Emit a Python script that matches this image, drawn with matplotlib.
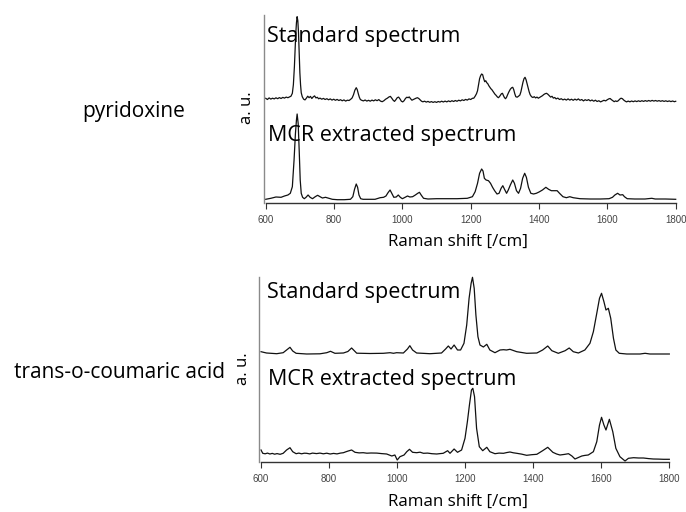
import matplotlib
matplotlib.use("Agg")
import matplotlib.pyplot as plt
import numpy as np

# ---------------- data (Raman shift in cm^-1, intensity in a.u.) ----------------
pyr_std_x = [600, 605, 610, 615, 620, 625, 630, 635, 640, 645, 650, 655, 660, 665, 670, 674, 678, 681,
             684, 686, 688, 690, 692, 694, 696, 698, 700, 702, 704, 707, 711, 715, 719, 723, 727, 731,
             735, 739, 743, 747, 751, 755, 759, 764, 769, 774, 779, 784, 789, 794, 799, 804, 809, 814,
             819, 824, 829, 834, 839, 844, 849, 853, 857, 861, 865, 868, 871, 874, 877, 881, 886, 891,
             896, 901, 906, 911, 916, 921, 926, 931, 936, 941, 946, 951, 956, 961, 965, 969, 973, 977,
             981, 985, 989, 993, 997, 1001, 1005, 1009, 1013, 1017, 1020, 1024, 1028, 1032, 1036, 1040,
             1044, 1048, 1052, 1056, 1060, 1065, 1070, 1075, 1080, 1085, 1090, 1095, 1100, 1105, 1110,
             1115, 1120, 1125, 1130, 1135, 1140, 1145, 1150, 1155, 1160, 1165, 1170, 1175, 1180, 1185,
             1190, 1195, 1200, 1205, 1209, 1213, 1217, 1220, 1223, 1226, 1229, 1232, 1235, 1238, 1241,
             1244, 1247, 1250, 1253, 1256, 1259, 1262, 1265, 1268, 1271, 1274, 1278, 1281, 1284, 1287,
             1290, 1293, 1296, 1299, 1302, 1305, 1308, 1312, 1316, 1320, 1323, 1326, 1329, 1332, 1336,
             1340, 1344, 1347, 1350, 1353, 1356, 1359, 1362, 1365, 1368, 1371, 1374, 1378, 1382, 1386,
             1390, 1394, 1398, 1402, 1406, 1410, 1414, 1418, 1422, 1426, 1430, 1434, 1438, 1442, 1446,
             1450, 1455, 1460, 1465, 1470, 1475, 1480, 1485, 1490, 1495, 1500, 1505, 1510, 1515, 1520,
             1525, 1530, 1535, 1540, 1545, 1550, 1555, 1560, 1565, 1570, 1575, 1580, 1585, 1590, 1595,
             1600, 1604, 1608, 1612, 1616, 1620, 1624, 1628, 1632, 1636, 1640, 1644, 1648, 1652, 1656,
             1661, 1666, 1671, 1676, 1681, 1686, 1691, 1696, 1701, 1706, 1711, 1716, 1721, 1726, 1731,
             1736, 1741, 1746, 1751, 1756, 1761, 1766, 1771, 1776, 1781, 1786, 1791, 1796, 1800]
pyr_std_y = [4.4, 3.2, 4.8, 3.6, 4.5, 3.8, 4.9, 4.0, 5.1, 4.2, 5.3, 4.6, 5.6, 5.0, 5.8, 6.5, 9.4, 18,
             36, 52, 69, 80, 86, 82, 70, 50, 30, 18, 10, 6, 3.5, 2.8, 4.5, 6.5, 5.0, 6.3,
             4.2, 5.8, 6.8, 4.8, 5.4, 3.9, 4.6, 3.5, 4.3, 3.2, 4.0, 2.9, 3.8, 2.6, 3.5, 2.4, 3.3, 2.2,
             3.0, 1.9, 2.8, 1.6, 2.5, 2.2, 3.5, 4.8, 8, 12.5, 15, 13, 9, 5.5, 3.2, 2.4, 1.8, 2.7,
             1.6, 2.4, 1.5, 2.6, 1.8, 2.9, 2.0, 3.1, 1.6, 1.0, 2.0, 3.5, 4.5, 5.8, 6.3, 4.5, 2.5, 1.3,
             3.0, 5.0, 5.6, 3.8, 1.5, 0.8, 2.0, 4.2, 5.5, 5.0, 5.8, 4.0, 2.5, 3.2, 3.9, 4.5,
             5.0, 4.2, 2.8, 1.5, 0.9, 1.5, 0.6, 1.3, 0.4, 1.1, 0.3, 1.0, 0.3, 1.2, 0.6,
             1.5, 0.7, 1.6, 0.8, 1.8, 1.0, 2.0, 1.2, 2.2, 1.4, 2.5, 1.8, 2.9, 2.2, 3.3,
             2.6, 3.8, 3.2, 4.4, 4.5, 6.5, 9, 12, 18, 24, 27, 28.7, 28, 24, 21,
             22, 20, 19, 17, 15.5, 14, 13, 11.5, 10, 8.5, 7.5, 5.8, 5, 6, 7.5,
             9, 9.4, 7, 5, 4, 5.5, 8, 11, 13.5, 15, 15.4, 13, 9, 6, 5.5,
             6.5, 7.7, 11, 16, 20.5, 24, 25.4, 23, 19, 15, 11, 8, 6, 5.2, 6,
             4.8, 5.6, 4.5, 5.3, 6.2, 7.0, 8.2, 9.0, 9.4, 8.4, 7.0, 5.6, 6.4, 4.6, 5.2,
             3.8, 4.6, 3.2, 4.0, 2.8, 3.6, 2.6, 3.8, 2.6, 3.5, 2.4, 3.6, 2.6, 3.8, 2.4,
             3.2, 1.8, 3.0, 2.2, 3.1, 1.8, 2.7, 1.5, 2.5, 1.2, 2.0, 0.8, 1.6, 2.4, 1.8,
             3.0, 3.8, 4.2, 3.0, 2.0, 1.0, 1.8, 1.2, 2.0, 3.5, 4.5, 4.0, 2.6, 1.6, 0.8,
             1.6, 0.9, 1.7, 1.0, 1.8, 1.1, 1.9, 1.2, 2.0, 1.3, 2.1, 1.4, 2.2, 1.5, 2.3,
             1.6, 2.2, 1.5, 2.1, 1.4, 2.0, 1.3, 1.9, 1.2, 1.8, 1.1, 1.7, 1.0, 1.4]

pyr_mcr_x = [600, 615, 630, 645, 655, 665, 672, 678, 683, 687, 690, 692, 695, 698, 701, 704, 708, 713,
             718, 724, 730, 737, 745, 752, 759, 766, 775, 785, 795, 810, 830, 848, 855, 860, 865, 869,
             873, 878, 885, 900, 920, 935, 945, 952, 958, 964, 969, 975, 982, 988, 994, 1000, 1008,
             1015, 1022, 1030, 1038, 1045, 1050, 1055, 1062, 1075, 1100, 1130, 1160, 1190, 1205,
             1213, 1220, 1226, 1232, 1236, 1240, 1245, 1252, 1258, 1264, 1270, 1277, 1283, 1289,
             1294, 1299, 1305, 1310, 1316, 1323, 1328, 1334, 1340, 1346, 1352, 1358, 1363, 1369,
             1376, 1384, 1392, 1400, 1410, 1420, 1428, 1436, 1445, 1453, 1460, 1470, 1480, 1490,
             1500, 1520, 1550, 1580, 1605, 1615, 1622, 1630, 1637, 1645, 1650, 1658, 1680, 1710,
             1730, 1740, 1770, 1800]
pyr_mcr_y = [3.4, 4.4, 5.7, 5.4, 6.7, 7.7, 9.4, 16, 42.7, 69, 82.7, 88.7, 79.4, 52.7, 22.7, 9.4, 5.4, 4,
             5.4, 7.7, 5.4, 4, 6, 7.4, 6, 4.7, 5.4, 4.4, 3.4, 3.0, 3.0, 3.4, 6, 13.4, 18.7, 15.4,
             7.7, 4, 3.4, 3.4, 3.4, 5, 5.4, 6.7, 10, 12.7, 9.4, 5.4, 5.7, 7.7, 5.4, 4, 5.4,
             6.7, 5.7, 6, 7.7, 9.4, 10.4, 7.7, 4.4, 3.7, 4.0, 4.0, 4.0, 4.4, 6,
             11, 19.4, 29.4, 33.7, 31.7, 24.4, 22.7, 22, 19.4, 15.4, 12, 8.7, 9.4, 14.4,
             17, 13.4, 9.4, 12.7, 17.7, 22.7, 19.4, 12, 9.4, 14.4, 24.4, 29.4, 25.4, 15.4,
             9.4, 8.7, 9.4, 10.7, 12.7, 15.4, 13.4, 12, 12, 12, 9.4, 6, 5, 6,
             5, 4, 3.7, 3.7, 4, 5.4, 7.7, 9.4, 7.7, 8, 6, 4, 3.7, 3.7,
             4.4, 3.7, 3.7, 3.4]

cou_std_x = [601, 617, 647, 666, 676, 686, 694, 704, 735, 774, 794, 805, 818, 843, 856, 867, 882, 921,
             960, 980, 990, 999, 1019, 1031, 1038, 1046, 1058, 1097, 1131, 1143, 1151, 1159, 1168,
             1178, 1187, 1197, 1205, 1212, 1218, 1222, 1227, 1232, 1238, 1244, 1254, 1264, 1273,
             1288, 1303, 1313, 1322, 1332, 1352, 1381, 1411, 1428, 1443, 1455, 1474, 1494, 1506,
             1518, 1533, 1552, 1567, 1577, 1587, 1595, 1601, 1608, 1614, 1621, 1628, 1636, 1643,
             1653, 1675, 1714, 1729, 1743, 1800]
cou_std_y = [10.3, 9, 8.3, 9.3, 12, 14.7, 11, 8.7, 8, 8.2, 9.3, 10.7, 8.7, 9, 10.5, 14, 8.8, 8.5,
             8.7, 9.3, 8.7, 9.3, 9, 13, 16.3, 12, 9, 8.3, 9, 13, 16, 13, 17,
             12, 12, 18.7, 37, 63.7, 78.7, 84.7, 73.7, 47, 25.3, 17, 15, 17.7, 12,
             9.3, 12, 12.3, 12, 12.7, 10.3, 8.7, 9, 12, 16, 11.3, 8.7, 11.3, 14,
             10.3, 9, 12, 18.7, 30.3, 48.7, 63.7, 68.7, 60.3, 52, 53.7, 43.7, 23.7, 12,
             8.7, 8, 8, 8.7, 8, 8]

cou_mcr_x = [601, 606, 613, 620, 627, 634, 641, 648, 657, 666, 676, 686, 694, 704, 712, 720, 728, 735,
             744, 752, 764, 774, 784, 794, 804, 814, 824, 834, 843, 850, 857, 867, 877, 889, 901,
             912, 924, 941, 955, 970, 985, 994, 1001, 1009, 1021, 1029, 1037, 1046, 1058, 1068,
             1078, 1090, 1103, 1117, 1127, 1136, 1149, 1156, 1168, 1178, 1190, 1200, 1207, 1213,
             1219, 1223, 1228, 1234, 1242, 1252, 1264, 1273, 1288, 1300, 1313, 1322, 1332, 1342,
             1352, 1366, 1381, 1396, 1411, 1428, 1443, 1458, 1469, 1479, 1492, 1504, 1514, 1523,
             1533, 1543, 1552, 1562, 1577, 1587, 1595, 1601, 1608, 1614, 1624, 1634, 1643, 1655,
             1670, 1680, 1695, 1710, 1724, 1739, 1753, 1768, 1783, 1800]
cou_mcr_y = [12, 8.7, 8.2, 8.9, 8, 8.6, 7.8, 8.4, 7.7, 8.7, 12, 14.3, 10.3, 8.3, 8.9, 8.2, 8.8, 8.7,
             8.1, 8.9, 8.4, 8.9, 8.2, 8.8, 8.0, 8.6, 8.1, 8.9, 9.3, 10.2, 11, 12, 9.7, 9.1, 9.3,
             8.8, 9.0, 8.9, 8.4, 8.0, 6, 7, 2, 5.3, 7, 10.3, 12.7, 9.7, 9.3, 9.8,
             8.7, 8.9, 8.3, 8.0, 8.4, 8.7, 11.3, 8.7, 13, 9.7, 12, 23.7, 40.3, 57,
             72, 73.7, 65.3, 33.7, 15.3, 11.3, 14.7, 10.3, 8.3, 8.9, 8.7, 9.4, 10, 9.2,
             8.7, 7.9, 6.7, 7.3, 7.7, 11.3, 14.7, 9.7, 8.0, 7, 7.6, 8.3, 6.0, 3,
             4.5, 6, 6.6, 7, 10.3, 20.3, 37, 44.7, 37, 32, 42.7, 30.3, 13.7, 5.3,
             1, 3.7, 4.3, 4.0, 4.0, 3.4, 3, 2.9, 2.7, 2.7]

ticks = [600, 800, 1000, 1200, 1400, 1600, 1800]
offset = 100  # vertical shift applied to the standard spectrum in each panel

# ---------------- figure ----------------
W, H = 686, 512
fig = plt.figure(figsize=(W / 100, H / 100), dpi=100)
text_font = ["Open Sans", "DejaVu Sans"]


def box(x0, x1, ytop, ybot):
    return [x0 / W, 1 - ybot / H, (x1 - x0) / W, (ybot - ytop) / H]


def fp(x, y):
    return x / W, 1 - y / H


def panel(rect, ymax, std_x, std_y, mcr_x, mcr_y):
    ax = fig.add_axes(rect)
    ax.plot(std_x, np.asarray(std_y) + offset, color="#111111", lw=0.9, clip_on=False)
    ax.plot(mcr_x, mcr_y, color="#111111", lw=0.9, clip_on=False)
    ax.set_xlim(600, 1800)
    ax.set_ylim(0, ymax)
    for s in ("top", "right"):
        ax.spines[s].set_visible(False)
    ax.spines["left"].set_position(("outward", 1.5))
    ax.spines["left"].set_color("#8a8a8a")
    ax.spines["left"].set_linewidth(1.0)
    ax.spines["bottom"].set_color("#333333")
    ax.spines["bottom"].set_linewidth(1.0)
    ax.set_yticks([])
    ax.set_xticks(ticks)
    ax.set_xticklabels([str(t) for t in ticks], fontsize=7, color="#444444",
                       family=["Liberation Sans", "DejaVu Sans"])
    ax.tick_params(axis="x", direction="out", length=4, width=0.8, color="#333333", pad=5)
    ax.patch.set_alpha(0)
    return ax


# top panel: pyridoxine
panel(box(265.7, 675.7, 15, 202.7), 187.7, pyr_std_x, pyr_std_y, pyr_mcr_x, pyr_mcr_y)
# bottom panel: trans-o-coumaric acid
panel(box(260.7, 669.3, 277, 462), 185, cou_std_x, cou_std_y, cou_mcr_x, cou_mcr_y)

lab = dict(family=text_font, fontsize=15.5, color="#000000", ha="left", va="baseline")
fig.text(*fp(267, 42), "Standard spectrum", **lab)
fig.text(*fp(268, 140.5), "MCR extracted spectrum", **lab)
fig.text(*fp(267, 298), "Standard spectrum", **lab)
fig.text(*fp(268, 385.5), "MCR extracted spectrum", **lab)

xl = dict(family=text_font, fontsize=12.2, color="#000000", ha="center", va="baseline")
fig.text(*fp(458, 246), "Raman shift [/cm]", **xl)
fig.text(*fp(458, 506), "Raman shift [/cm]", **xl)

au = dict(family=text_font, fontsize=12, color="#000000", ha="center", va="center", rotation=90)
fig.text(*fp(247, 108), "a. u.", **au)
fig.text(*fp(243, 369), "a. u.", **au)

nm = dict(family=text_font, fontsize=15, color="#000000", ha="center", va="baseline")
fig.text(*fp(133.5, 117), "pyridoxine", **nm)
fig.text(*fp(120, 378), "trans-o-coumaric acid", **nm)

fig.savefig("out.png", dpi=100)
